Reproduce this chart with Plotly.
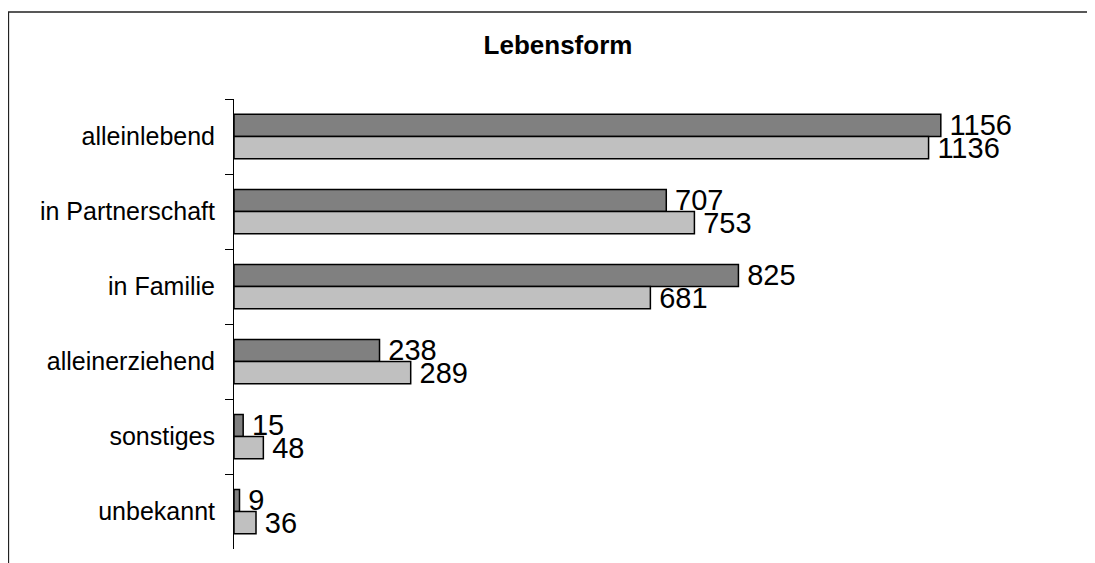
import plotly.graph_objects as go

categories = ["alleinlebend", "in Partnerschaft", "in Familie", "alleinerziehend", "sonstiges", "unbekannt"]
series_a = [1156, 707, 825, 238, 15, 9]
series_b = [1136, 753, 681, 289, 48, 36]
title_text = "Lebensform"

FONT = "Liberation Sans, Arial, sans-serif"
PAD = "\u2009"

fig = go.Figure()
fig.add_trace(go.Bar(
    y=categories, x=series_a, orientation="h", name="Serie 1",
    marker=dict(color="#808080", line=dict(color="#000000", width=1.5)),
    text=[PAD + str(v) for v in series_a], textposition="outside", constraintext="none",
    cliponaxis=False, textfont=dict(family=FONT, size=29, color="#000000"),
))
fig.add_trace(go.Bar(
    y=categories, x=series_b, orientation="h", name="Serie 2",
    marker=dict(color="#C0C0C0", line=dict(color="#000000", width=1.5)),
    text=[PAD + str(v) for v in series_b], textposition="outside", constraintext="none",
    cliponaxis=False, textfont=dict(family=FONT, size=29, color="#000000"),
))

W, H = 1087, 555
fig.update_layout(
    width=W, height=H,
    margin=dict(l=226, r=5, t=91, b=14),
    paper_bgcolor="white", plot_bgcolor="white",
    barmode="group", bargap=0.41, bargroupgap=0,
    showlegend=False,
    font=dict(family=FONT, color="#000000"),
    title=dict(text="<b>" + title_text + "</b>", x=550 / W, xref="container",
               xanchor="center", y=1 - 37 / H, yanchor="middle",
               font=dict(family=FONT, size=26, color="#000000")),
    xaxis=dict(range=[0, 1400], visible=False, fixedrange=True),
    yaxis=dict(
        categoryorder="array", categoryarray=categories, autorange="reversed",
        showline=True, linecolor="#000000", linewidth=1,
        ticks="outside", tickson="boundaries", ticklen=8, tickcolor="#000000", tickwidth=1,
        tickfont=dict(family=FONT, size=25, color="#000000"),
        showgrid=False, zeroline=False, ticklabelstandoff=13,
    ),
    shapes=[dict(type="rect", xref="paper", yref="paper",
                 x0=(0.5 - 226) / 856, x1=1.1, y0=-0.1, y1=(541 - 4) / 450,
                 line=dict(color="#222222", width=1.3), fillcolor="rgba(0,0,0,0)", layer="below")],
)

fig.write_html("out.html")
